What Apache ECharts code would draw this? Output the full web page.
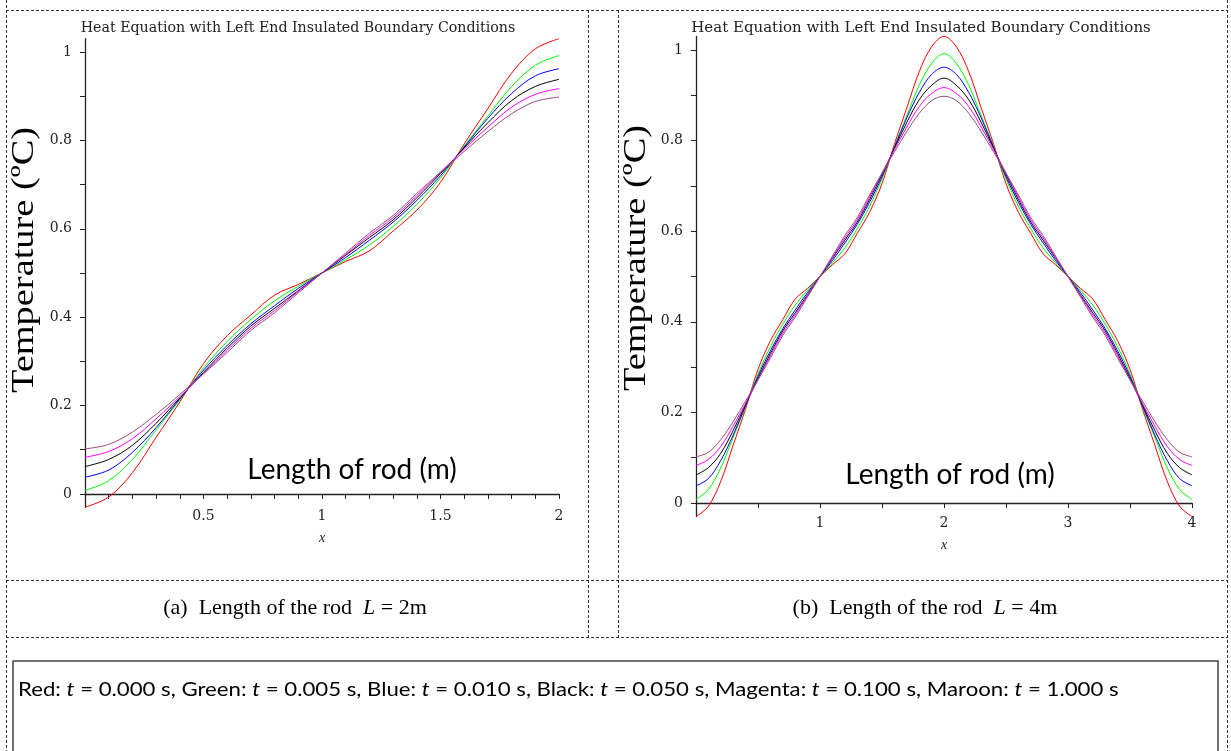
<!DOCTYPE html>
<html>
<head>
<meta charset="utf-8">
<script src="https://cdn.jsdelivr.net/npm/echarts@6/dist/echarts.min.js"></script>
<style>
html,body{margin:0;padding:0;background:#ffffff;}
#c{width:1231px;height:751px;}
</style>
</head>
<body>
<div id="c"></div>
<script>
// ---------- data: panel (a) L = 2 m ----------
const xLeft = [0,0.1,0.2,0.3,0.4,0.5,0.6,0.7,0.8,0.9,1.0,1.1,1.2,1.3,1.4,1.5,1.6,1.7,1.8,1.9,2.0];
const redLeft     = [-0.03,-0.007,0.048,0.128,0.208,0.295,0.358,0.405,0.45,0.474,0.5,0.526,0.55,0.595,0.642,0.705,0.792,0.872,0.952,1.007,1.03];
const greenLeft   = [0.008,0.03,0.078,0.145,0.213,0.285,0.345,0.395,0.437,0.47,0.5,0.53,0.563,0.605,0.655,0.715,0.787,0.855,0.922,0.97,0.992];
const blueLeft    = [0.038,0.054,0.094,0.15,0.215,0.28,0.336,0.385,0.426,0.465,0.5,0.535,0.574,0.615,0.664,0.72,0.785,0.85,0.906,0.946,0.962];
const blackLeft   = [0.062,0.078,0.11,0.16,0.217,0.275,0.33,0.38,0.42,0.46,0.5,0.54,0.58,0.62,0.67,0.725,0.783,0.84,0.89,0.922,0.938];
const magentaLeft = [0.083,0.096,0.125,0.17,0.22,0.272,0.325,0.375,0.415,0.458,0.5,0.542,0.585,0.625,0.675,0.728,0.78,0.83,0.875,0.904,0.917];
const maroonLeft  = [0.102,0.112,0.14,0.18,0.225,0.272,0.32,0.37,0.41,0.455,0.5,0.545,0.59,0.63,0.68,0.728,0.775,0.82,0.86,0.888,0.898];

// ---------- data: panel (b) L = 4 m ----------
const xRight = [0,0.1,0.2,0.3,0.4,0.5,0.6,0.7,0.8,0.9,1.0,1.1,1.2,1.3,1.4,1.5,1.6,1.7,1.8,1.9,2.0,
                2.1,2.2,2.3,2.4,2.5,2.6,2.7,2.8,2.9,3.0,3.1,3.2,3.3,3.4,3.5,3.6,3.7,3.8,3.9,4.0];
const redRight     = [-0.03,-0.007,0.048,0.128,0.208,0.295,0.358,0.405,0.45,0.474,0.5,0.526,0.55,0.595,0.642,0.705,0.792,0.872,0.952,1.007,1.03,
                      1.007,0.952,0.872,0.792,0.705,0.642,0.595,0.55,0.526,0.5,0.474,0.45,0.405,0.358,0.295,0.208,0.128,0.048,-0.007,-0.03];
const greenRight   = [0.008,0.03,0.078,0.145,0.213,0.285,0.345,0.395,0.437,0.47,0.5,0.53,0.563,0.605,0.655,0.715,0.787,0.855,0.922,0.97,0.992,
                      0.97,0.922,0.855,0.787,0.715,0.655,0.605,0.563,0.53,0.5,0.47,0.437,0.395,0.345,0.285,0.213,0.145,0.078,0.03,0.008];
const blueRight    = [0.038,0.054,0.094,0.15,0.215,0.28,0.336,0.385,0.426,0.465,0.5,0.535,0.574,0.615,0.664,0.72,0.785,0.85,0.906,0.946,0.962,
                      0.946,0.906,0.85,0.785,0.72,0.664,0.615,0.574,0.535,0.5,0.465,0.426,0.385,0.336,0.28,0.215,0.15,0.094,0.054,0.038];
const blackRight   = [0.062,0.078,0.11,0.16,0.217,0.275,0.33,0.38,0.42,0.46,0.5,0.54,0.58,0.62,0.67,0.725,0.783,0.84,0.89,0.922,0.938,
                      0.922,0.89,0.84,0.783,0.725,0.67,0.62,0.58,0.54,0.5,0.46,0.42,0.38,0.33,0.275,0.217,0.16,0.11,0.078,0.062];
const magentaRight = [0.083,0.096,0.125,0.17,0.22,0.272,0.325,0.375,0.415,0.458,0.5,0.542,0.585,0.625,0.675,0.728,0.78,0.83,0.875,0.904,0.917,
                      0.904,0.875,0.83,0.78,0.728,0.675,0.625,0.585,0.542,0.5,0.458,0.415,0.375,0.325,0.272,0.22,0.17,0.125,0.096,0.083];
const maroonRight  = [0.102,0.112,0.14,0.18,0.225,0.272,0.32,0.37,0.41,0.455,0.5,0.545,0.59,0.63,0.68,0.728,0.775,0.82,0.86,0.888,0.898,
                      0.888,0.86,0.82,0.775,0.728,0.68,0.63,0.59,0.545,0.5,0.455,0.41,0.37,0.32,0.272,0.225,0.18,0.14,0.112,0.102];

// ---------- tick values / labels ----------
const yLabelVals = [0,0.2,0.4,0.6,0.8,1];
const yTickVals  = [0,0.1,0.2,0.3,0.4,0.5,0.6,0.7,0.8,0.9,1];
const xTickLeft  = [0.1,0.2,0.3,0.4,0.5,0.6,0.7,0.8,0.9,1,1.1,1.2,1.3,1.4,1.5,1.6,1.7,1.8,1.9,2];
const xTickRight = [0.5,1,1.5,2,2.5,3,3.5,4];

// ---------- texts ----------
const plotTitle = 'Heat Equation with Left End Insulated Boundary Conditions';
const yTitle = 'Temperature (ºC)';
const xInner = 'Length of rod (m)';
const seriesNames = ['Red: t = 0.000 s','Green: t = 0.005 s','Blue: t = 0.010 s','Black: t = 0.050 s','Magenta: t = 0.100 s','Maroon: t = 1.000 s'];
const colors = ['#ff0000','#00ff00','#0000ff','#000000','#ff00ff','#9a4a80'];

const chart = echarts.init(document.getElementById('c'));

function pairs(xs, ys){ return xs.map((x,i)=>[x, ys[i]]); }

const leftSets  = [redLeft, greenLeft, blueLeft, blackLeft, magentaLeft, maroonLeft];
const rightSets = [redRight, greenRight, blueRight, blackRight, magentaRight, maroonRight];

const series = [];
leftSets.forEach((ys,i)=>series.push({
  name: seriesNames[i], type:'line', xAxisIndex:0, yAxisIndex:0,
  data: pairs(xLeft, ys), symbol:'none', showSymbol:false, smooth:0.35,
  lineStyle:{color:colors[i], width:1}, itemStyle:{color:colors[i]}, z: 2+i
}));
rightSets.forEach((ys,i)=>series.push({
  name: seriesNames[i], type:'line', xAxisIndex:1, yAxisIndex:1,
  data: pairs(xRight, ys), symbol:'none', showSymbol:false, smooth:0.35,
  lineStyle:{color:colors[i], width:1}, itemStyle:{color:colors[i]}, z: 2+i
}));

const axisColor = '#222';
const tickFont = {fontFamily:'DejaVu Serif', fontSize:14, color:'#222'};

function yAxisCfg(g){
  return {
    type:'value', gridIndex:g, min:-0.03, max:1.03,
    axisLine:{show:true, onZero:false, lineStyle:{color:axisColor, width:1.3}},
    axisTick:{show:true, length:5, customValues:yTickVals, lineStyle:{color:axisColor, width:1}},
    axisLabel:Object.assign({customValues:yLabelVals, margin:13, formatter:v=>String(v)}, tickFont),
    splitLine:{show:false}
  };
}
function xAxisCfg(g, max, interval, ticks, margin, gap){
  return {
    type:'value', gridIndex:g, min:0, max:max, interval:interval,
    name:'x', nameLocation:'middle', nameGap:gap,
    nameTextStyle:{fontFamily:'Liberation Serif', fontStyle:'italic', fontSize:14, color:'#222'},
    axisLine:{show:true, onZero:true, lineStyle:{color:axisColor, width:1.3}},
    axisTick:{show:true, length:5, customValues:ticks, lineStyle:{color:axisColor, width:1}},
    axisLabel:Object.assign({showMinLabel:false, margin:margin, formatter:v=>(v===0?'':String(v))}, tickFont),
    splitLine:{show:false}
  };
}

const dash = {stroke:'#333', lineWidth:1, lineDash:[3,2]};
function dline(x1,y1,x2,y2){ return {type:'line', shape:{x1,y1,x2,y2}, style:dash, silent:true}; }

const graphic = [
  // table borders
  dline(6.5,0,6.5,751),
  dline(1227.5,0,1227.5,751),
  dline(6,10.5,1228,10.5),
  dline(588.5,10,588.5,638),
  dline(618.5,10,618.5,638),
  dline(6,580.5,1228,580.5),
  dline(6,637.5,1228,637.5),
  {type:'rect', shape:{x:13, y:661, width:1205, height:120}, style:{fill:'none', stroke:'#444', lineWidth:1.5}, silent:true},
  // plot titles
  {type:'text', x:298, y:28, style:{text:plotTitle, font:'14.2px "DejaVu Serif"', fill:'#222', align:'center', verticalAlign:'middle'}},
  {type:'text', x:921, y:28, style:{text:plotTitle, font:'15px "DejaVu Serif"', fill:'#222', align:'center', verticalAlign:'middle'}},
  // y titles
  {type:'text', x:25, y:260, rotation:Math.PI/2, scaleX:1.2, style:{text:yTitle, font:'32px "Liberation Serif"', fill:'#000', align:'center', verticalAlign:'middle'}},
  {type:'text', x:637, y:258, rotation:Math.PI/2, scaleX:1.2, style:{text:yTitle, font:'32px "Liberation Serif"', fill:'#000', align:'center', verticalAlign:'middle'}},
  // in-plot axis description
  {type:'text', x:352, y:470, style:{text:xInner, font:'28px Lato', fill:'#000', align:'center', verticalAlign:'middle'}},
  {type:'text', x:950, y:475, style:{text:xInner, font:'28px Lato', fill:'#000', align:'center', verticalAlign:'middle'}},
  // captions
  {type:'text', x:295, y:608, style:{text:'(a)  Length of the rod  {i|L} = 2m', font:'22px "Liberation Serif"', fill:'#000', align:'center', verticalAlign:'middle',
    rich:{i:{font:'italic 22px "Liberation Serif"', fill:'#000'}}}},
  {type:'text', x:925, y:608, style:{text:'(b)  Length of the rod  {i|L} = 4m', font:'22px "Liberation Serif"', fill:'#000', align:'center', verticalAlign:'middle',
    rich:{i:{font:'italic 22px "Liberation Serif"', fill:'#000'}}}},
  // legend description
  {type:'text', x:18, y:690, scaleX:1.11, style:{
    text: seriesNames.map(s=>s.replace('t = ','{i|t} = ')).join(', '),
    font:'20px Lato', fill:'#000', align:'left', verticalAlign:'middle',
    rich:{i:{font:'italic 20px Lato', fill:'#000'}}}}
];

const option = {
  animation:false,
  backgroundColor:'#ffffff',
  grid:[
    {left:85, top:38.7, width:474, height:468.5, outerBoundsMode:'none'},
    {left:696, top:36.4, width:496, height:480.2, outerBoundsMode:'none'}
  ],
  xAxis:[ xAxisCfg(0, 2, 0.5, xTickLeft, 2, 24), xAxisCfg(1, 4, 1, xTickRight, 0, 22) ],
  yAxis:[ yAxisCfg(0), yAxisCfg(1) ],
  series: series,
  graphic: graphic
};
chart.setOption(option);
</script>
</body>
</html>
